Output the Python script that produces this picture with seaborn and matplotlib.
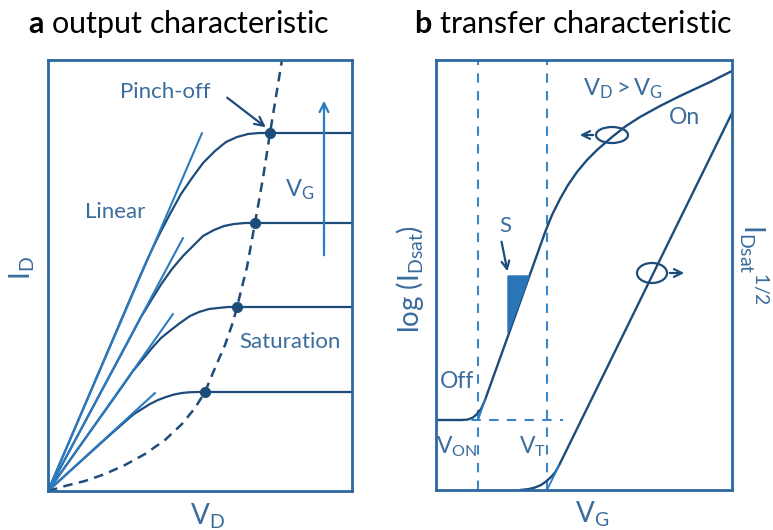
import numpy as np
import pandas as pd
import matplotlib
matplotlib.use("Agg")
import matplotlib.pyplot as plt
import seaborn as sns
from matplotlib.patches import Ellipse, Polygon

# ---------------- data (panel a: output characteristic, arbitrary units) ----------------
VD_sat = [222, 207, 189, 157]          # pinch-off drain voltage of each V_G curve
ID_sat = [358, 268, 184, 99]           # saturation current of each V_G curve
VD_max = 304
ID_max = 431
curve_vd = [
    [0, 89, 100, 111, 122, 133, 144, 155, 167, 178, 189, 200, 211, 222, 304],
    [0, 83, 93, 104, 114, 124, 135, 145, 155, 166, 176, 186, 197, 207, 304],
    [0, 76, 85, 95, 104, 113, 123, 132, 142, 151, 161, 170, 180, 189, 304],
    [0, 63, 71, 79, 86, 94, 102, 110, 118, 126, 134, 141, 149, 157, 304],
]
curve_id = [
    [0, 208, 233, 256, 277, 297, 313, 328, 340, 349, 354, 357, 358, 358, 358],
    [0, 155, 174, 192, 208, 222, 235, 245, 255, 261, 265, 267, 268, 268, 268],
    [0, 107, 120, 132, 143, 153, 161, 168, 175, 179, 182, 183, 184, 184, 184],
    [0, 57, 64, 71, 77, 82, 87, 91, 94, 96.5, 98, 98.7, 99, 99, 99],
]
tangent_end_vd = [154, 135, 125, 107]
tangent_end_id = [358, 253, 177, 98]
pinch_vd = [0, 17, 37, 57, 77, 97, 117, 134, 147, 157, 167, 177, 185, 189, 199, 207, 215, 222, 234]
pinch_id = [0, 5, 10, 17, 26, 37, 51, 67, 83, 99, 123, 146, 169, 184, 224, 268, 313, 358, 431]

# ---------------- data (panel b: transfer characteristic, arbitrary units) ----------------
VG_max = 296
I_max = 430
V_ON = 42
V_T = 111
I_off = 70
off_line_end = 127
log_vg = [0, 26, 32, 37, 41, 45, 49, 72, 92, 109, 116, 124, 132, 141, 151, 161, 176, 190,
          204, 224, 244, 274, 296]
log_id = [70, 70, 70.5, 72.5, 76, 81, 90, 154, 210, 257.6, 275, 291, 305, 318, 330, 340,
          353, 364, 373, 384, 394, 408, 419]
sqrt_vg = [84, 92, 99, 105, 110, 115, 119, 123, 216, 296]
sqrt_id = [0, 0.8, 2.5, 5, 8.5, 13, 17.5, 24.5, 214, 377]
S_tri_vg = [72, 93, 72]
S_tri_id = [214, 214, 157]

# ---------------- style ----------------
sns.set_theme(style="white")
plt.rcParams['font.family'] = ['Lato', 'DejaVu Sans']
plt.rcParams['mathtext.fontset'] = 'custom'
plt.rcParams['mathtext.rm'] = 'Lato'
plt.rcParams['mathtext.it'] = 'Lato:italic'
plt.rcParams['mathtext.bf'] = 'Lato:bold'
plt.rcParams['lines.solid_joinstyle'] = 'round'
plt.rcParams['lines.solid_capstyle'] = 'round'

BOX = '#2f68a0'
CURVE = '#1e4c7a'
TANG = '#2b7bc0'
LABEL = '#3a6c9c'
DASHB = '#3b86c8'
FILL = '#2a74b8'

W, H = 773, 530
fig = plt.figure(figsize=(W / 100, H / 100), dpi=100)


def fx(px):
    return px / W


def fy(py):
    return 1 - py / H


def style_ax(ax):
    ax.set_xticks([])
    ax.set_yticks([])
    ax.set_xlabel('')
    ax.set_ylabel('')
    for sp in ax.spines.values():
        sp.set_visible(True)
        sp.set_color(BOX)
        sp.set_linewidth(2.0)
    ax.set_facecolor('white')


# ---------------- panel a ----------------
ax1 = fig.add_axes([fx(48), fy(491), 304 / W, 431 / H])
for vx, vy in zip(curve_vd, curve_id):
    sns.lineplot(x=vx, y=vy, ax=ax1, color=CURVE, lw=1.6, sort=False, estimator=None)
for ex, ey in zip(tangent_end_vd, tangent_end_id):
    sns.lineplot(x=[0, ex], y=[0, ey], ax=ax1, color=TANG, lw=1.5, sort=False, estimator=None)
sns.lineplot(x=pinch_vd, y=pinch_id, ax=ax1, color=CURVE, lw=1.8, sort=False, estimator=None)
ax1.lines[-1].set_linestyle((0, (3.8, 2.6)))
sns.scatterplot(x=VD_sat, y=ID_sat, ax=ax1, s=55, color=CURVE, edgecolor=CURVE, zorder=5)
ax1.set_xlim(0, VD_max)
ax1.set_ylim(0, ID_max)
style_ax(ax1)

ax1.text(117, 399, 'Pinch-off', color=LABEL, fontsize=16, ha='center', va='center')
ax1.text(67, 279, 'Linear', color=LABEL, fontsize=16, ha='center', va='center')
ax1.text(242, 149, 'Saturation', color=LABEL, fontsize=16, ha='center', va='center')
ax1.text(252, 301, r'$\mathregular{V_G}$', color=LABEL, fontsize=17, ha='center', va='center')
ax1.annotate('', xy=(220, 362), xytext=(177, 395),
             arrowprops=dict(arrowstyle='->', color=CURVE, lw=1.6, mutation_scale=16))
ax1.annotate('', xy=(276, 393), xytext=(276, 233),
             arrowprops=dict(arrowstyle='->', color=TANG, lw=1.6, mutation_scale=16))

# ---------------- panel b ----------------
ax2 = fig.add_axes([fx(436), fy(490), 296 / W, 430 / H])
dash_b = (0, (4.5, 4))
ax2.axvline(V_ON, color=DASHB, lw=1.5, ls=dash_b)
ax2.axvline(V_T, color=DASHB, lw=1.5, ls=dash_b)
ax2.plot([0, off_line_end], [I_off, I_off], color=DASHB, lw=1.5, ls=dash_b)
sns.lineplot(x=log_vg, y=log_id, ax=ax2, color=CURVE, lw=1.7, sort=False, estimator=None)
sns.lineplot(x=sqrt_vg, y=sqrt_id, ax=ax2, color=CURVE, lw=1.7, sort=False, estimator=None)
sns.lineplot(x=[V_ON, log_vg[6]], y=[I_off, log_id[6]], ax=ax2, color=TANG, lw=1.3,
             sort=False, estimator=None)
sns.lineplot(x=[V_T, sqrt_vg[-3]], y=[0, sqrt_id[-3]], ax=ax2, color=TANG, lw=1.3,
             sort=False, estimator=None)
ax2.add_patch(Polygon(list(zip(S_tri_vg, S_tri_id)), closed=True, facecolor=FILL,
                      edgecolor=FILL, lw=1, zorder=3))
ax2.add_patch(Ellipse((176, 355), 32, 16, fill=False, edgecolor=CURVE, lw=1.6, zorder=4))
ax2.add_patch(Ellipse((216, 217), 30, 20, fill=False, edgecolor=CURVE, lw=1.6, zorder=4))
ax2.annotate('', xy=(141, 355), xytext=(160, 355),
             arrowprops=dict(arrowstyle='->', color=CURVE, lw=1.6, mutation_scale=14))
ax2.annotate('', xy=(251, 217), xytext=(231, 217),
             arrowprops=dict(arrowstyle='->', color=CURVE, lw=1.6, mutation_scale=14))
ax2.annotate('', xy=(72, 216), xytext=(65, 251),
             arrowprops=dict(arrowstyle='->', color=CURVE, lw=1.6, mutation_scale=14))
ax2.set_xlim(0, VG_max)
ax2.set_ylim(0, I_max)
style_ax(ax2)

ax2.text(69, 264, 'S', color=LABEL, fontsize=16, ha='center', va='center')
ax2.text(187, 401, r'$\mathregular{V_D > V_G}$', color=LABEL, fontsize=17, ha='center', va='center')
ax2.text(249, 372, 'On', color=LABEL, fontsize=16.5, ha='center', va='center')
ax2.text(21, 108, 'Off', color=LABEL, fontsize=16.5, ha='center', va='center')
ax2.text(21, 43, r'$\mathregular{V_{ON}}$', color=LABEL, fontsize=16.5, ha='center', va='center')
ax2.text(96, 43, r'$\mathregular{V_T}$', color=LABEL, fontsize=16.5, ha='center', va='center')

# ---------------- titles and axis labels ----------------
fig.text(fx(28), fy(33), r'$\mathbf{a}$ output characteristic', fontsize=22, color='black',
         ha='left', va='baseline')
fig.text(fx(414), fy(33), r'$\mathbf{b}$ transfer characteristic', fontsize=22, color='black',
         ha='left', va='baseline')
fig.text(fx(22), fy(268), r'$\mathregular{I_D}$', fontsize=20, color=LABEL, rotation=90,
         ha='center', va='center')
fig.text(fx(207), fy(516), r'$\mathregular{V_D}$', fontsize=20, color=LABEL,
         ha='center', va='center')
fig.text(fx(592), fy(514), r'$\mathregular{V_G}$', fontsize=20, color=LABEL,
         ha='center', va='center')
fig.text(fx(410), fy(279), r'$\mathregular{log\ (I_{Dsat})}$', fontsize=20, color=LABEL,
         rotation=90, ha='center', va='center')
fig.text(fx(754), fy(265), r'$\mathregular{I_{Dsat}{}^{1/2}}$', fontsize=20, color=LABEL,
         rotation=-90, ha='center', va='center')

fig.savefig('out.png', dpi=100, facecolor='white')
